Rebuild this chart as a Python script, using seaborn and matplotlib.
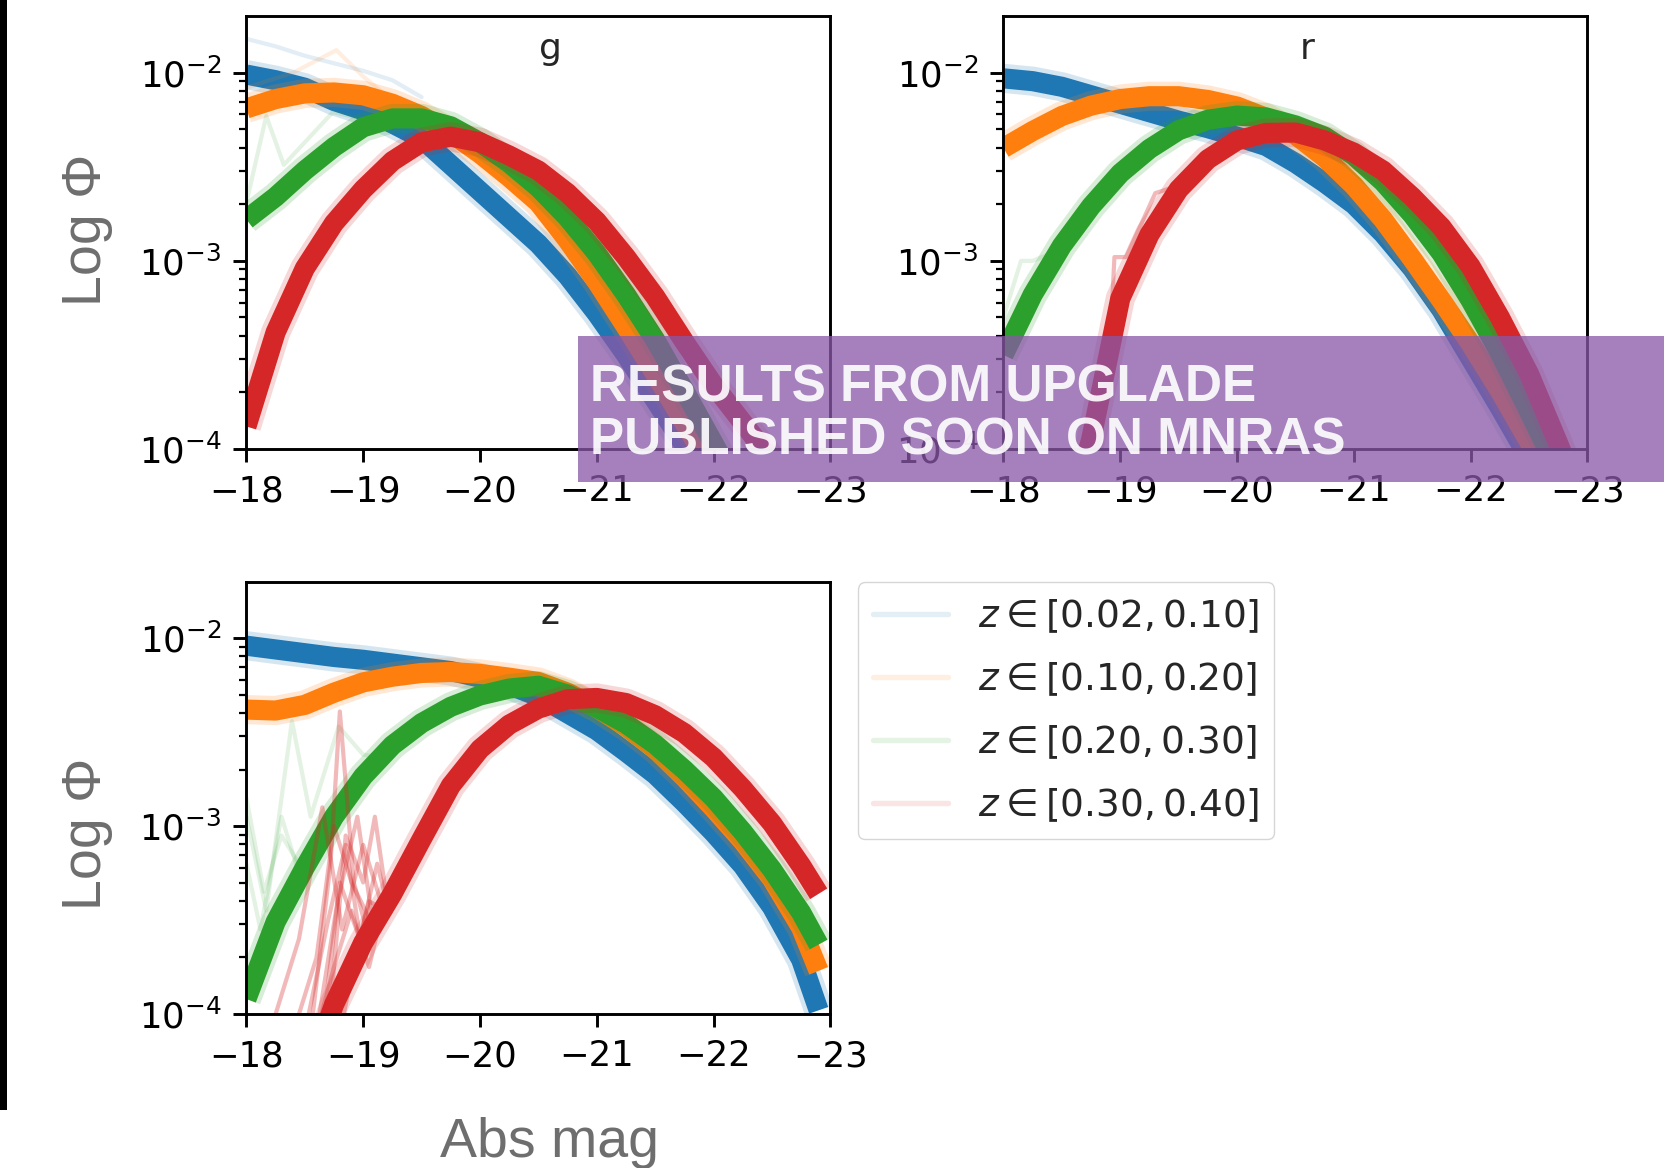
import numpy as np
import pandas as pd
import matplotlib
matplotlib.use("Agg")
import matplotlib.pyplot as plt
from matplotlib.lines import Line2D
from matplotlib.patches import Rectangle
import seaborn as sns

# ---------------------------------------------------------------------------
# Luminosity functions: log10(Phi) on a common absolute-magnitude grid
# ---------------------------------------------------------------------------
MAG = [-18.0, -18.25, -18.5, -18.75, -19.0, -19.25, -19.5, -19.75, -20.0,
       -20.25, -20.5, -20.75, -21.0, -21.25, -21.5, -21.75, -22.0, -22.25,
       -22.5, -22.75, -22.9]

Z_LABELS = [r"$z \in [0.02, 0.10]$", r"$z \in [0.10, 0.20]$",
            r"$z \in [0.20, 0.30]$", r"$z \in [0.30, 0.40]$"]
COLORS = ["#1f77b4", "#ff7f0e", "#2ca02c", "#d62728"]

# g band
G_Z1 = [-2.01, -2.04, -2.08, -2.15, -2.20, -2.27, -2.35, -2.49, -2.63, -2.77,
        -2.91, -3.08, -3.28, -3.50, -3.74, -3.98, -4.22, -4.47, -4.72, -4.97, -5.12]
G_Z2 = [-2.19, -2.14, -2.11, -2.105, -2.12, -2.165, -2.23, -2.32, -2.43, -2.555,
        -2.69, -2.89, -3.11, -3.35, -3.60, -3.86, -4.12, -4.38, -4.63, -4.88, -5.03]
G_Z3 = [-2.78, -2.66, -2.52, -2.395, -2.29, -2.243, -2.243, -2.285, -2.37, -2.48,
        -2.61, -2.77, -2.96, -3.18, -3.42, -3.69, -3.97, -4.25, -4.50, -4.75, -4.90]
G_Z4 = [-3.88, -3.38, -3.04, -2.80, -2.62, -2.47, -2.37, -2.34, -2.37, -2.44,
        -2.52, -2.64, -2.79, -2.98, -3.19, -3.43, -3.66, -3.86, -4.06, -4.25, -4.40]

# r band
R_Z1 = [-2.03, -2.045, -2.075, -2.12, -2.165, -2.21, -2.255, -2.295, -2.34, -2.39,
        -2.48, -2.585, -2.70, -2.855, -3.04, -3.26, -3.52, -3.78, -4.05, -4.35, -4.50]
R_Z2 = [-2.40, -2.31, -2.23, -2.175, -2.14, -2.125, -2.125, -2.145, -2.18, -2.24,
        -2.33, -2.45, -2.60, -2.78, -2.99, -3.21, -3.44, -3.69, -3.96, -4.25, -4.45]
R_Z3 = [-3.50, -3.18, -2.92, -2.71, -2.535, -2.405, -2.306, -2.25, -2.228, -2.238,
        -2.28, -2.34, -2.44, -2.58, -2.755, -2.96, -3.21, -3.49, -3.80, -4.12, -4.35]
R_Z4 = [-5.50, -5.00, -4.50, -3.95, -3.20, -2.86, -2.62, -2.46, -2.36, -2.32,
        -2.318, -2.36, -2.425, -2.52, -2.66, -2.82, -3.03, -3.30, -3.60, -3.97, -4.20]

# z band
Z_Z1 = [-2.04, -2.06, -2.08, -2.10, -2.115, -2.135, -2.155, -2.175, -2.21, -2.25,
        -2.31, -2.40, -2.49, -2.605, -2.725, -2.875, -3.035, -3.21, -3.43, -3.71, -3.98]
Z_Z2 = [-2.38, -2.385, -2.355, -2.29, -2.235, -2.205, -2.185, -2.18, -2.19, -2.21,
        -2.233, -2.29, -2.37, -2.47, -2.59, -2.74, -2.905, -3.08, -3.28, -3.54, -3.77]
Z_Z3 = [-3.92, -3.51, -3.22, -2.95, -2.735, -2.57, -2.452, -2.365, -2.305, -2.268,
        -2.253, -2.30, -2.37, -2.455, -2.565, -2.70, -2.85, -3.03, -3.23, -3.46, -3.63]
Z_Z4 = [-5.20, -4.80, -4.40, -3.95, -3.62, -3.36, -3.07, -2.785, -2.59, -2.46,
        -2.375, -2.325, -2.318, -2.345, -2.41, -2.505, -2.635, -2.80, -2.985, -3.21, -3.36]

# individual noisy posterior draws (magnitude, log10 Phi, redshift-bin index)
G_DRAW_1 = ([-18.0, -18.25, -18.5, -18.75, -19.0, -19.25, -19.5],
            [-1.82, -1.86, -1.91, -1.95, -1.99, -2.04, -2.13], 0)
G_DRAW_2 = ([-18.0, -18.4, -18.77, -19.0, -19.25], [-2.08, -2.0, -1.88, -2.02, -2.15], 1)
G_DRAW_3 = ([-18.0, -18.17, -18.32, -18.74, -19.03], [-2.69, -2.23, -2.49, -2.21, -2.25], 2)

R_DRAW_1 = ([-18.0, -18.15, -18.25, -18.45], [-3.3, -3.0, -3.0, -2.95], 2)
R_DRAW_2 = ([-18.9, -18.95, -19.05, -19.3, -19.4, -19.5], [-3.6, -2.98, -2.98, -2.64, -2.62, -2.6], 3)

Z_DRAW_1 = ([-18.0, -18.17, -18.39, -18.55, -18.79, -19.0, -19.2],
            [-2.95, -3.45, -2.44, -2.95, -2.47, -2.62, -2.64], 2)
Z_DRAW_2 = ([-18.0, -18.15, -18.3, -18.5, -18.7, -18.9], [-2.85, -3.35, -3.05, -3.25, -2.95, -2.8], 2)
Z_DRAW_3 = ([-18.0, -18.12, -18.3, -18.45, -18.6], [-3.2, -3.55, -2.95, -3.25, -3.05], 2)
Z_DRAW_4 = ([-18.55, -18.72, -18.8, -18.92, -19.05, -19.17], [-4.1, -3.2, -2.39, -3.3, -3.6, -3.44], 3)
Z_DRAW_5 = ([-18.6, -18.78, -18.95, -19.08, -19.17], [-4.1, -3.4, -2.95, -3.5, -3.44], 3)
Z_DRAW_6 = ([-18.2, -18.45, -18.65, -18.82, -19.0, -19.17], [-4.1, -3.6, -2.9, -3.55, -3.1, -3.44], 3)
Z_DRAW_7 = ([-18.7, -18.85, -19.0, -19.1, -19.2], [-4.1, -3.05, -3.3, -2.95, -3.38], 3)
Z_DRAW_8 = ([-18.4, -18.6, -18.75, -18.9, -19.1], [-4.1, -3.7, -3.0, -3.3, -3.55], 3)
Z_DRAW_9 = ([-18.8, -18.9, -19.05, -19.17], [-4.1, -3.8, -3.4, -3.44], 3)
Z_DRAW_10 = ([-18.5, -18.7, -18.85, -19.0, -19.17], [-4.1, -3.5, -3.1, -3.7, -3.44], 3)
Z_DRAW_11 = ([-18.65, -18.8, -18.97, -19.12, -19.2], [-4.1, -3.3, -3.6, -3.2, -3.4], 3)
Z_DRAW_12 = ([-18.6, -18.75, -18.9, -19.05, -19.17], [-4.1, -3.75, -3.45, -3.75, -3.44], 3)

# ---------------------------------------------------------------------------
sns.set_style("ticks", {"axes.edgecolor": "black", "xtick.color": "black",
                        "ytick.color": "black", "axes.linewidth": 2.1})
plt.rcParams["font.family"] = ["DejaVu Sans"]
plt.rcParams["mathtext.fontset"] = "dejavusans"

fig = plt.figure(figsize=(16.65, 11.68), dpi=100)
fig.patch.set_facecolor("white")

ax_g = fig.add_axes([0.1480, 0.6156, 0.3507, 0.3703])
ax_r = fig.add_axes([0.6027, 0.6156, 0.3507, 0.3703])
ax_z = fig.add_axes([0.1480, 0.1318, 0.3507, 0.3699])


def long_table(curves):
    rows = []
    for k, vals in enumerate(curves):
        for m, v in zip(MAG, vals):
            rows.append({"mag": m, "phi": 10.0 ** v, "zbin": Z_LABELS[k]})
    return pd.DataFrame(rows)


def draw_panel(ax, curves, draws, name):
    ax.set_yscale("log")
    df = long_table(curves)
    for k, lab in enumerate(Z_LABELS):
        sub = df[df["zbin"] == lab]
        # soft outer envelope of the posterior draws, then the dense core
        sns.lineplot(data=sub, x="mag", y="phi", color=COLORS[k], lw=21,
                     alpha=0.18, sort=False, estimator=None, ax=ax,
                     solid_capstyle="butt", solid_joinstyle="round")
        sns.lineplot(data=sub, x="mag", y="phi", color=COLORS[k], lw=14.5,
                     sort=False, estimator=None, ax=ax,
                     solid_capstyle="butt", solid_joinstyle="round")
    for mags, logs, k in draws:
        d = pd.DataFrame({"mag": mags, "phi": 10.0 ** np.asarray(logs)})
        a = 0.13 if k < 3 else 0.32
        sns.lineplot(data=d, x="mag", y="phi", color=COLORS[k], lw=3.0,
                     alpha=a, sort=False, estimator=None, ax=ax)
    ax.set_xlim(-18, -23)
    ax.set_ylim(1e-4, 1.99e-2)
    ax.set_xticks([-18, -19, -20, -21, -22, -23])
    ax.set_xlabel("")
    ax.set_ylabel("")
    ax.tick_params(which="major", length=9.1, width=2.1, pad=9,
                   labelsize=25.5, direction="out")
    ax.tick_params(which="minor", length=5.2, width=1.6, direction="out")
    for sp in ax.spines.values():
        sp.set_visible(True)
        sp.set_linewidth(2.1)
        sp.set_color("black")
    ax.text(0.52, 0.925, name, transform=ax.transAxes, ha="center",
            va="center", fontsize=26)


draw_panel(ax_g, [G_Z1, G_Z2, G_Z3, G_Z4], [G_DRAW_1, G_DRAW_2, G_DRAW_3], "g")
draw_panel(ax_r, [R_Z1, R_Z2, R_Z3, R_Z4], [R_DRAW_1, R_DRAW_2], "r")
draw_panel(ax_z, [Z_Z1, Z_Z2, Z_Z3, Z_Z4],
           [Z_DRAW_1, Z_DRAW_2, Z_DRAW_3, Z_DRAW_4, Z_DRAW_5, Z_DRAW_6,
            Z_DRAW_7, Z_DRAW_8, Z_DRAW_9, Z_DRAW_10, Z_DRAW_11, Z_DRAW_12], "z")

# legend built from single faint draws
handles = [Line2D([0], [0], color=c, alpha=0.12, lw=3.9) for c in COLORS]
fig.legend(handles, Z_LABELS, loc="upper left",
           bbox_to_anchor=(858 / 1665, 1 - 582 / 1168), borderaxespad=0,
           fontsize=27, labelspacing=0.68, handletextpad=0.8,
           frameon=True, edgecolor="0.8", framealpha=0.8)

# slide furniture: axis captions
label_kw = dict(fontsize=40, color="#6e6e6e", family="Liberation Sans",
                ha="center", va="center")
fig.text(0.0523, 0.803, "Log Φ", rotation=90, **label_kw)
fig.text(0.0523, 0.286, "Log Φ", rotation=90, **label_kw)
fig.text(0.330, 0.0214, "Abs mag", **label_kw)

# dark edge strip on the left of the slide
fig.add_artist(Rectangle((0, 1 - 1110 / 1168), 7 / 1665, 1110 / 1168,
                         transform=fig.transFigure, facecolor="black",
                         edgecolor="none", zorder=5))

# announcement banner
fig.add_artist(Rectangle((578 / 1665, 1 - 482 / 1168), 1087 / 1665, 146 / 1168,
                         transform=fig.transFigure,
                         facecolor=(137 / 255, 88 / 255, 167 / 255),
                         alpha=0.76, edgecolor="none", zorder=10))
banner_kw = dict(fontsize=37, fontweight="bold", family="Liberation Sans",
                 color="white", alpha=0.9, va="baseline", ha="left", zorder=11)
fig.text(590 / 1665, 1 - 401 / 1168, "RESULTS FROM UPGLADE", **banner_kw)
fig.text(590 / 1665, 1 - 454 / 1168, "PUBLISHED SOON ON MNRAS", **banner_kw)

fig.savefig("out.png", dpi=100, facecolor="white")
